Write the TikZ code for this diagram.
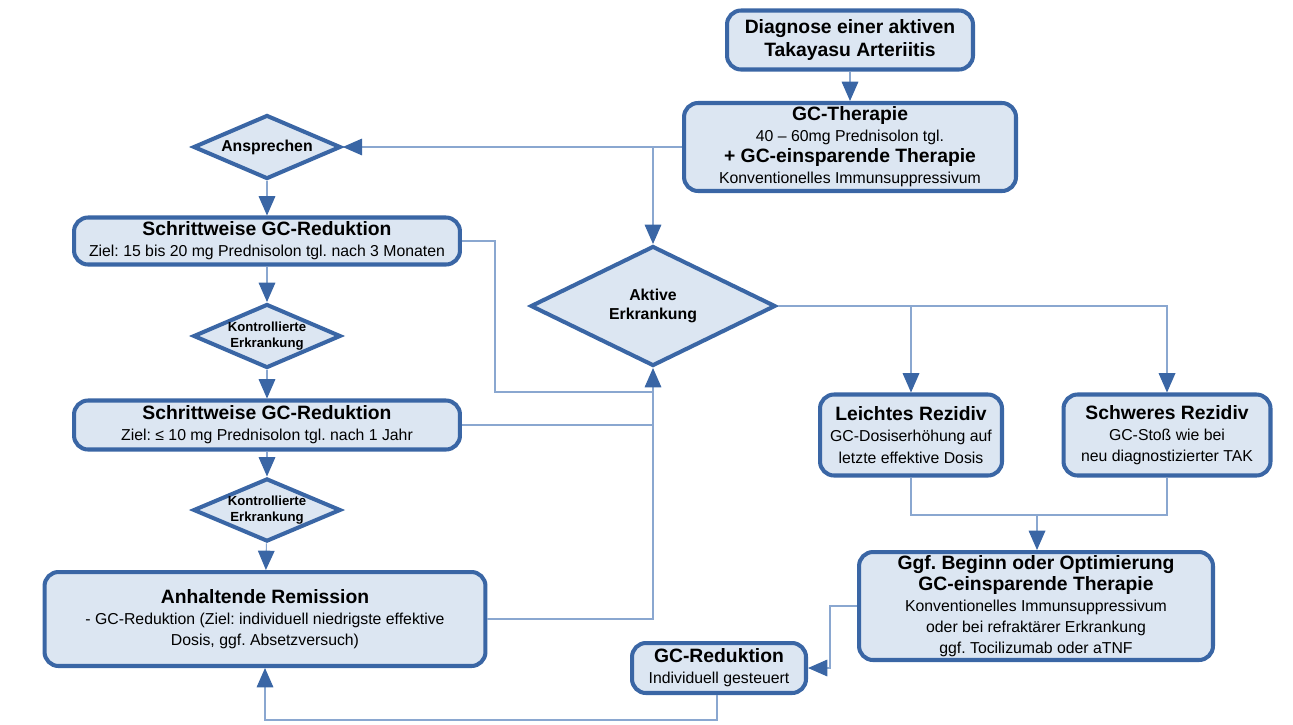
\documentclass[tikz,border=0pt]{standalone}
\usepackage{fontspec}
\setmainfont{Liberation Sans}
\usetikzlibrary{shapes.geometric, arrows.meta}
\definecolor{boxfill}{HTML}{DCE6F2}
\definecolor{boxline}{HTML}{3A66A5}
\definecolor{wireblue}{HTML}{8AA7D0}
\newcommand{\hd}[1]{{\fontsize{11}{13}\selectfont\bfseries #1}}
\frenchspacing

\begin{document}
\begin{tikzpicture}[x=0.02cm, y=-0.02cm,
    box/.style={draw=boxline, fill=boxfill, line width=2.3pt, rounded corners=0.28cm,
        align=center, inner sep=1pt, font=\fontsize{9}{12}\selectfont},
    decision/.style={diamond, draw=boxline, fill=boxfill, line width=2.3pt, aspect=2.3,
        align=center, inner sep=0pt, font=\bfseries\fontsize{9}{11}\selectfont},
    wire/.style={draw=wireblue, line width=0.6pt},
    conn/.style={wire, -{Triangle[length=11pt, width=9.5pt, color=boxline]}}]
    \useasboundingbox (0, 0) rectangle (1293, 724);

    % % main column
    \node[box, minimum width=4.92cm, minimum height=1.18cm,
        font=\bfseries\fontsize{11}{13}\selectfont] (diag) at (850, 40)
        {Diagnose einer aktiven\\Takayasu Arteriitis};
    \node[box, minimum width=6.64cm, minimum height=1.76cm] (gct) at (850, 147)
        {\hd{GC-Therapie}\\40 – 60mg Prednisolon tgl.\\\hd{+ GC-einsparende Therapie}\\Konventionelles Immunsuppressivum};
    \node[decision, minimum width=4.9cm, minimum height=2.4cm] (akt) at (653, 306)
        {Aktive\\Erkrankung};

    % % left column
    \node[decision, minimum width=2.95cm, minimum height=1.28cm] (ansp) at (267, 147) {Ansprechen};
    \node[box, minimum width=7.72cm, minimum height=0.94cm] (red1) at (267, 241)
        {\hd{Schrittweise GC-Reduktion}\\Ziel: 15 bis 20 mg Prednisolon tgl. nach 3 Monaten};
    \node[decision, minimum width=2.95cm, minimum height=1.28cm,
        font=\bfseries\fontsize{7.5}{9.5}\selectfont] (kon1) at (267, 336)
        {Kontrollierte\\Erkrankung};
    \node[box, minimum width=7.72cm, minimum height=0.98cm] (red2) at (267, 425)
        {\hd{Schrittweise GC-Reduktion}\\Ziel: ≤ 10 mg Prednisolon tgl. nach 1 Jahr};
    \node[decision, minimum width=2.95cm, minimum height=1.24cm,
        font=\bfseries\fontsize{7.5}{9.5}\selectfont] (kon2) at (267, 510)
        {Kontrollierte\\Erkrankung};
    \node[box, minimum width=8.82cm, minimum height=1.88cm] (rem) at (265, 619)
        {\hd{Anhaltende Remission}\\- GC-Reduktion (Ziel: individuell niedrigste effektive\\Dosis, ggf. Absetzversuch)};

    % % right column
    \node[box, minimum width=3.64cm, minimum height=1.62cm] (leicht) at (911, 435)
        {\hd{Leichtes Rezidiv}\\GC-Dosiserhöhung auf\\letzte effektive Dosis};
    \node[box, minimum width=4.14cm, minimum height=1.62cm] (schwer) at (1167, 435)
        {\hd{Schweres Rezidiv}\\GC-Stoß wie bei\\neu diagnostizierter TAK};
    \node[box, minimum width=7.08cm, minimum height=2.16cm] (ggf) at (1036, 606)
        {\hd{Ggf. Beginn oder Optimierung}\\\hd{GC-einsparende Therapie}\\Konventionelles Immunsuppressivum\\oder bei refraktärer Erkrankung\\ggf. Tocilizumab oder aTNF};
    \node[box, minimum width=3.48cm, minimum height=1.0cm] (gcred) at (719, 668)
        {\hd{GC-Reduktion}\\Individuell gesteuert};

    \coordinate (k1) at (495, 392);
    \coordinate (k2) at (1037, 515);
    \coordinate (k3) at (830, 640);
    \coordinate (k4) at (717, 720);

    % % connectors
    \draw[conn] (diag) -- (gct);
    \draw[conn] (gct.west) -- (ansp.east);
    \draw[conn] (akt.north |- gct.west) -- (akt.north);
    \draw[conn] (ansp) -- (red1);
    \draw[conn] (red1) -- (kon1);
    \draw[conn] (kon1) -- (red2);
    \draw[conn] (red2) -- (kon2);
    \draw[conn] (kon2) -- (rem);

    \draw[wire] (red1.east) -| (k1) -- (k1 -| akt.south);
    \draw[wire] (red2.east) -- (red2.east -| akt.south);
    \draw[conn] (rem.east) -| (akt.south);

    \draw[conn] (akt.east) -| (leicht.north);
    \draw[conn] (akt.east) -| (schwer.north);
    \draw[wire] (leicht.south) |- (k2);
    \draw[wire] (schwer.south) |- (k2);
    \draw[conn] (k2) -- (k2 |- ggf.north);

    \draw[conn] (ggf.west) -- (ggf.west -| k3) |- (gcred.east);
    \draw[conn] (gcred.south -| k4) -- (k4) -| (rem.south);
\end{tikzpicture}
\end{document}
